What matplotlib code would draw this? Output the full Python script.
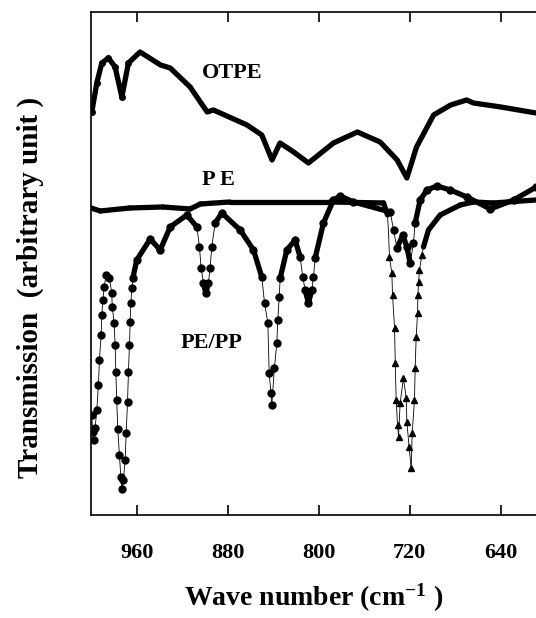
import numpy as np
import matplotlib
matplotlib.use('Agg')
import matplotlib.pyplot as plt
from matplotlib.collections import LineCollection

plt.rcParams['font.family'] = ['Liberation Serif', 'DejaVu Serif']
plt.rcParams['font.weight'] = 'bold'
plt.rcParams['mathtext.fontset'] = 'custom'
plt.rcParams['mathtext.rm'] = 'Liberation Serif:bold'
plt.rcParams['mathtext.it'] = 'Liberation Serif:italic:bold'

# wave number (cm-1) and transmission (arbitrary unit)
otpe_x = [999.4, 995, 990.6, 984.8, 978.9, 973, 967.2, 957, 939, 930.5, 913, 898, 892.5,
          863, 850, 841, 834, 822, 809, 787, 766, 746, 731, 722.5, 714, 699, 684, 670,
          664, 640, 609]
otpe_y = [403, 432, 452, 457, 448, 418, 452, 463, 450, 447, 428, 403, 405,
          390, 380, 355, 372, 363, 352, 372, 383, 373, 355, 337, 368, 400, 410, 415,
          412, 408, 402]

pe_x = [1000, 992, 966, 937, 913, 904, 878, 834, 790, 743, 739.5, 738.5,
        737.8, 735.7, 735.1, 733.3, 732.7, 731.9, 730.7, 729.8, 728.4, 725.5, 723.1,
        722.5, 720.5, 718.7, 717.8, 715.8, 715.2, 714.3, 713.1, 712.8, 712.2, 711.4,
        709.3, 707.9, 703.5, 693.2, 675.6, 664, 646.6, 609]
pe_y = [307, 304, 307, 308, 306, 311, 313, 313, 313, 312, 300, 280,
        258, 242, 220, 187, 152, 115, 90, 78, 112, 137, 117,
        93, 68, 47, 82, 115, 147, 178, 202, 220, 233, 245,
        260, 268, 285, 300, 310, 313, 312, 315]

pepp_x = [999.5, 998.5, 997.4, 996.5, 995, 993.6, 992.7, 991.2, 990.6, 989.7, 988.6, 986.8,
          983.9, 981.9, 981.4, 979.8, 978.9, 978.3, 977.5, 976.6, 975.1, 973.9, 973, 971.6,
          970.1, 969.2, 968, 967.2, 966.3, 965.7, 965.1, 964.2, 963.3, 959.9, 948.1, 939.3,
          930.5, 915.9, 907, 904.8, 903.3, 901.3, 899.2, 896.9, 895.4, 894, 891, 885.1,
          869, 857.3, 850, 847.6, 844.7, 843.5, 842, 841.2, 838.9, 836.8, 835.9, 834.7,
          833.8, 828, 820.7, 816.3, 814, 811.9, 809, 806, 804.6, 803.1, 795.8, 787,
          781.1, 769.4, 737.1, 734.2, 731.2, 726, 722.5, 719.6, 716.7, 715.2, 710.8, 704.9,
          696.1, 684.4, 669.7, 649.2, 628.7, 608.8]
pepp_y = [100, 83, 75, 87, 105, 130, 155, 180, 200, 215, 228, 240,
          237, 222, 208, 192, 170, 143, 115, 86, 60, 38, 26, 35,
          55, 82, 113, 143, 170, 193, 212, 227, 237, 255, 276, 265,
          288, 300, 288, 268, 247, 232, 222, 232, 247, 268, 292, 302,
          285, 265, 238, 212, 192, 142, 122, 110, 147, 172, 195, 218,
          237, 265, 275, 258, 238, 225, 212, 225, 238, 257, 292, 315,
          319, 313, 303, 285, 267, 280, 268, 252, 272, 292, 315, 325,
          329, 325, 318, 306, 315, 328]

xticks = [960, 880, 800, 720, 640]


def thick_thin(ax, x, y, steep=5.0, wide=3.8, narrow=0.6):
    # dense dots in the scan look like a thick line, sparse ones like a thin one
    x = np.asarray(x, float); y = np.asarray(y, float)
    pts = np.column_stack([x, y])
    segs = np.stack([pts[:-1], pts[1:]], axis=1)
    slope = np.abs(np.diff(y)) / (np.abs(np.diff(x)) * 1.14 + 1e-9)
    lw = np.where(slope > steep, narrow, wide)
    ax.add_collection(LineCollection(segs, linewidths=lw, colors='black',
                                     capstyle='round', joinstyle='round'))


fig = plt.figure(figsize=(5.36, 6.18), dpi=100)
ax = fig.add_axes([0.17, 0.1667, 0.83, 0.8139])

ax.plot(otpe_x, otpe_y, '-', color='black', lw=3.8, solid_capstyle='round',
        solid_joinstyle='round')
ax.plot(otpe_x[:7], otpe_y[:7], 'o', color='black', ms=4)

pe_x = np.array(pe_x); pe_y = np.array(pe_y)
thick_thin(ax, pe_x, pe_y)
dip = (pe_x < 738) & (pe_x > 709)
ax.plot(pe_x[dip], pe_y[dip], '^', color='black', ms=5)

thick_thin(ax, pepp_x, pepp_y)
ax.plot(pepp_x, pepp_y, 'o', color='black', ms=5)

ax.text(876, 442, 'OTPE', ha='center', va='center', fontsize=16, fontweight='bold')
ax.text(888, 335, 'P E', ha='center', va='center', fontsize=16, fontweight='bold')
ax.text(894.5, 172, 'PE/PP', ha='center', va='center', fontsize=16, fontweight='bold')

ax.set_xlim(1000, 609)
ax.set_ylim(0, 503)
ax.set_xticks(xticks)
ax.set_xticklabels([str(t) for t in xticks])
ax.set_yticks([])
ax.tick_params(axis='x', direction='in', top=True, length=7, width=1.2,
               labelsize=16, pad=20)
for s in ['left', 'top', 'bottom']:
    ax.spines[s].set_linewidth(1.2)
ax.spines['right'].set_visible(False)

ax.set_xlabel('Wave number (cm$^{-1}$ )', fontsize=20, fontweight='bold', labelpad=14)
fig.text(0.056, 1 - 287 / 618, 'Transmission  (arbitrary unit )', rotation=90,
         ha='center', va='center', fontsize=21, fontweight='bold')

fig.savefig('out.png', dpi=100)
